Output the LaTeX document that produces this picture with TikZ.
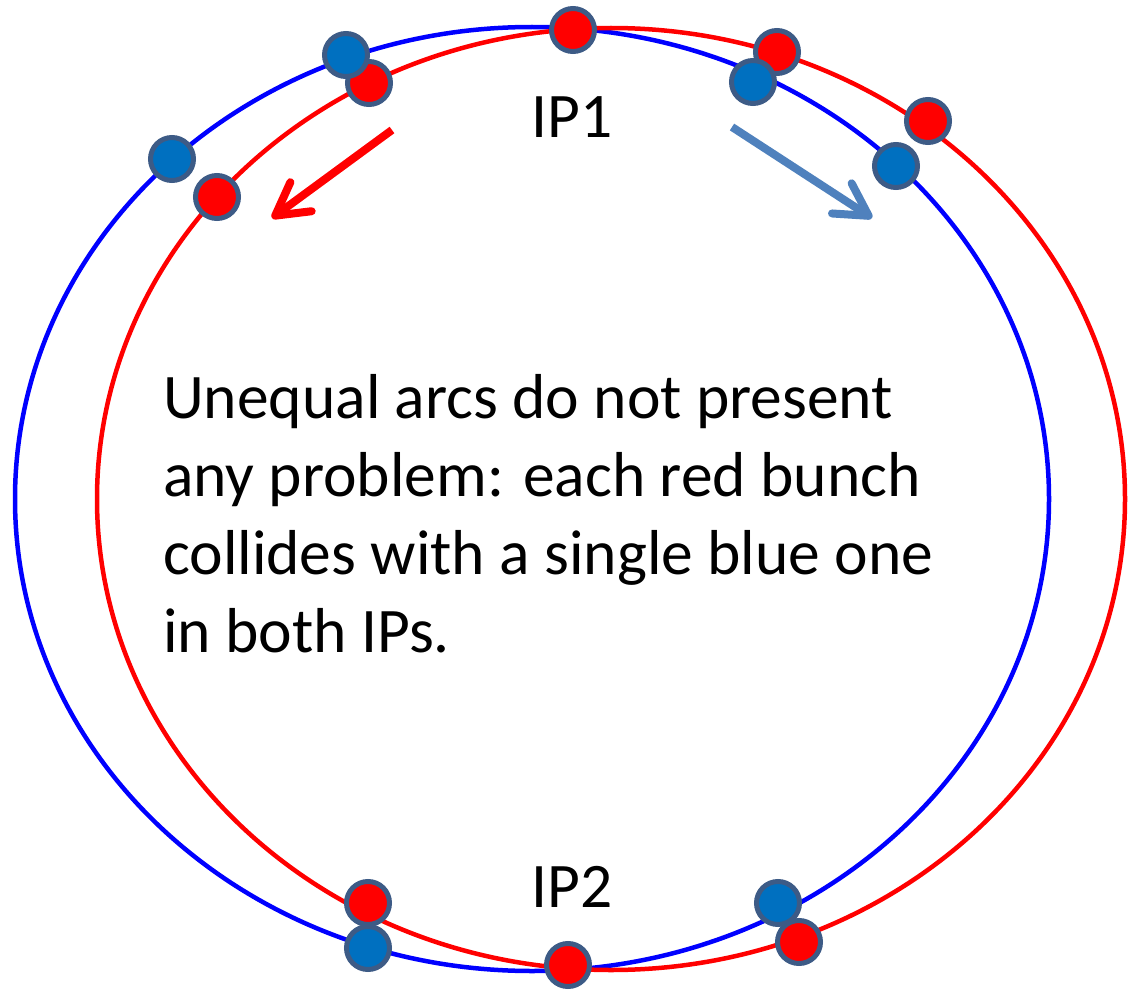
\documentclass[tikz,border=0pt]{standalone}
\usepackage{fontspec}
\setmainfont{Carlito}
\usetikzlibrary{arrows.meta}
\definecolor{bunchedge}{HTML}{3D5B86}
\definecolor{bunchblue}{HTML}{0070C0}
\definecolor{arrblue}{HTML}{4F81BD}

\begin{document}
\begin{tikzpicture}[x=1pt,y=-1pt,
    font=\fontsize{63.5}{78}\selectfont,
    ring/.style={line width=4.5pt},
    rbunch/.style={circle,draw=bunchedge,line width=5pt,fill=red,minimum size=43pt,inner sep=0pt},
    bbunch/.style={rbunch,fill=bunchblue},
    arr/.style={line width=8pt,-{Straight Barb[length=32pt,width=36pt,round]}}
  ]
    \useasboundingbox (0,0) rectangle (1128,990);
    % the two rings
    \draw[ring,blue] (532,499) ellipse [x radius=517pt,y radius=472pt];
    \draw[ring,red] (611,499) ellipse [x radius=514pt,y radius=471pt];
    % bunches
    \node[rbunch] (r1) at (573,30) {};
    \node[rbunch] (r2) at (369,83) {};
    \node[bbunch] (b2) at (346,55) {};
    \node[rbunch] (r3) at (777,52) {};
    \node[bbunch] (b3) at (753,82) {};
    \node[bbunch] (b4) at (172,159) {};
    \node[rbunch] (r4) at (217,197) {};
    \node[rbunch] (r5) at (928,121) {};
    \node[bbunch] (b5) at (896,166) {};
    \node[rbunch] (r6) at (368,903) {};
    \node[bbunch] (b6) at (368,948) {};
    \node[bbunch] (b7) at (778,903) {};
    \node[rbunch] (r7) at (799,942) {};
    \node[rbunch] (r8) at (568,965) {};
    % directions
    \coordinate (ra) at (392,130);
    \coordinate (rb) at (272,218);
    \coordinate (ba) at (732,127);
    \coordinate (bb) at (872,218);
    \draw[arr,red] (ra) -- (rb);
    \draw[arr,arrblue] (ba) -- (bb);
    % labels
    \node[anchor=base,inner sep=0pt] (ip1) at (572,137) {IP1};
    \node[anchor=base,inner sep=0pt] (ip2) at (572,907) {IP2};
    \node[anchor=base west,align=left,inner sep=0pt] (note) at (163,652)
      {Unequal arcs do not present\\any problem: each red bunch\\collides with a single blue one\\in both IPs.};
\end{tikzpicture}
\end{document}
